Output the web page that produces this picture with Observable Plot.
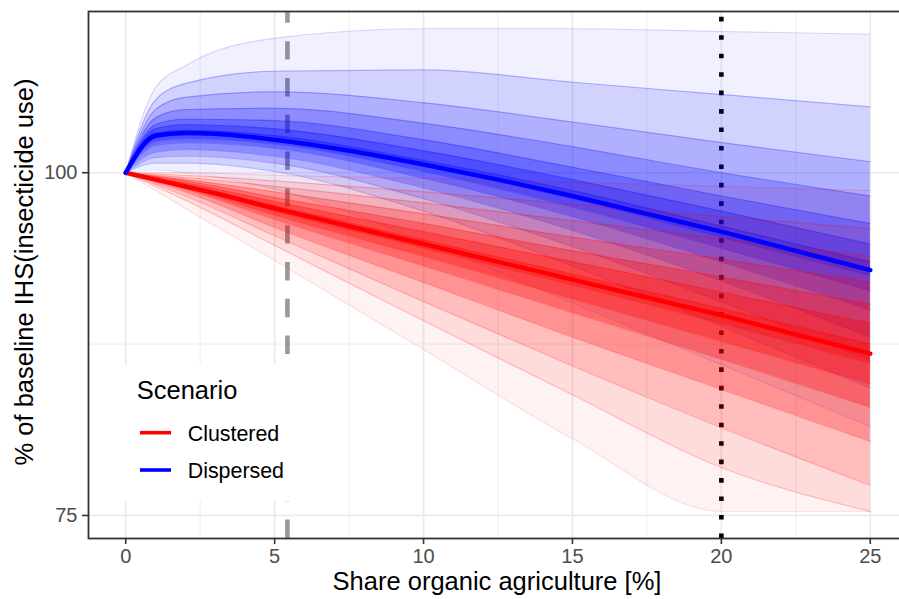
<!DOCTYPE html>
<html><head><meta charset="utf-8">
<script src="https://cdn.jsdelivr.net/npm/d3@7"></script>
<script src="https://cdn.jsdelivr.net/npm/@observablehq/plot@0.6"></script>
<style>
html,body{margin:0;padding:0;background:#fff;overflow:hidden;}
#wrap{position:relative;width:899px;height:599px;overflow:hidden;font-family:"Liberation Sans",Arial,sans-serif;}
#wrap svg{position:absolute;left:0;top:0;max-width:none !important;}
</style></head><body><div id="wrap"></div>
<script>
// ---- data ----
const xs = [0, 1, 2, 5, 10, 15, 20, 25];           // share organic agriculture [%]
// Dispersed ensemble: percentile envelopes (% of baseline), lowest to highest
const dispersedP00 = [100, 100.2, 100.0, 98.8, 95.0, 90.5, 86.0, 81.5];
const dispersedP03 = [100, 100.7, 100.7, 100.1, 97.2, 93.2, 88.8, 84.3];
const dispersedP08 = [100, 101.1, 101.2, 100.7, 98.1, 94.6, 90.6, 86.3];
const dispersedP15 = [100, 101.5, 101.7, 101.2, 98.9, 95.8, 92.1, 88.0];
const dispersedP25 = [100, 102.0, 102.2, 101.8, 99.6, 96.8, 93.5, 90.0];
const dispersedP35 = [100, 102.3, 102.5, 102.1, 100.1, 97.5, 94.5, 91.4];
const dispersedP45 = [100, 102.6, 102.8, 102.3, 100.5, 98.1, 95.3, 92.5];
const dispersedP55 = [100, 102.9, 103.1, 102.7, 100.9, 98.7, 96.1, 93.5];
const dispersedP65 = [100, 103.2, 103.5, 103.2, 101.6, 99.5, 97.2, 94.8];
const dispersedP75 = [100, 103.5, 103.9, 103.8, 102.4, 100.4, 98.3, 96.3];
const dispersedP85 = [100, 104.0, 104.6, 104.7, 103.6, 101.9, 100.0, 98.3];
const dispersedP92 = [100, 104.6, 105.5, 105.9, 105.1, 103.7, 102.2, 100.8];
const dispersedP97 = [100, 105.3, 106.5, 107.4, 107.5, 106.6, 105.7, 104.8];
const dispersedP100 = [100, 106.2, 107.8, 109.8, 110.5, 110.5, 110.3, 110.1];
// Clustered ensemble: percentile envelopes
const clusteredP00 = [100, 98.7, 97.4, 93.6, 87.1, 80.6, 75.3, 75.3];
const clusteredP03 = [100, 99.0, 98.0, 94.7, 89.2, 83.8, 78.5, 75.3];
const clusteredP08 = [100, 99.15, 98.3, 95.4, 90.6, 85.9, 81.4, 77.2];
const clusteredP15 = [100, 99.3, 98.6, 96.0, 92.0, 88.0, 84.2, 80.4];
const clusteredP25 = [100, 99.4, 98.8, 96.6, 93.2, 89.8, 86.4, 82.9];
const clusteredP35 = [100, 99.45, 98.9, 96.9, 93.9, 90.8, 87.7, 84.6];
const clusteredP45 = [100, 99.5, 99.0, 97.2, 94.5, 91.8, 89.0, 86.1];
const clusteredP55 = [100, 99.55, 99.1, 97.6, 95.1, 92.6, 90.1, 87.5];
const clusteredP65 = [100, 99.6, 99.25, 97.9, 95.7, 93.5, 91.3, 89.0];
const clusteredP75 = [100, 99.7, 99.4, 98.2, 96.3, 94.3, 92.4, 90.4];
const clusteredP85 = [100, 99.75, 99.5, 98.6, 97.0, 95.3, 93.7, 92.0];
const clusteredP92 = [100, 99.8, 99.65, 99.0, 97.8, 96.5, 95.2, 93.9];
const clusteredP97 = [100, 99.9, 99.8, 99.4, 98.6, 97.7, 96.8, 95.9];
const clusteredP100 = [100, 100, 100, 99.8, 99.6, 99.3, 99.0, 98.7];
// mean lines
const meanX = [0, 1, 2, 3, 5, 7.5, 10, 12.5, 15, 17.5, 20, 22.5, 25];
const meanDispersed = [100, 102.7, 102.9, 102.85, 102.4, 101.6, 100.6, 99.5, 98.3, 97.0, 95.7, 94.3, 92.9];
const meanClustered = [100, 99.5, 99.0, 98.5, 97.4, 96.1, 94.8, 93.5, 92.2, 90.9, 89.6, 88.2, 86.8];
// reference lines
const dashedX = [5.43];
const dottedX = [20];
// scenarios
const scenarios = ["Clustered", "Dispersed"];
const scenarioColors = ["#FF0000", "#0000FF"];
// axes
const xTicks = [0, 5, 10, 15, 20, 25];
const xMinor = [2.5, 7.5, 12.5, 17.5, 22.5];
const yTicks = [75, 100];
const yMinor = [87.5];
const xLimits = [-1.25, 26.25];
const yLimits = [73.32, 111.76];

// ---- build tables ----
const dispersedP = [dispersedP00, dispersedP03, dispersedP08, dispersedP15, dispersedP25, dispersedP35, dispersedP45,
  dispersedP55, dispersedP65, dispersedP75, dispersedP85, dispersedP92, dispersedP97, dispersedP100];
const clusteredP = [clusteredP00, clusteredP03, clusteredP08, clusteredP15, clusteredP25, clusteredP35, clusteredP45,
  clusteredP55, clusteredP65, clusteredP75, clusteredP85, clusteredP92, clusteredP97, clusteredP100];
const blueOpacity = [0.06, 0.12, 0.16, 0.2, 0.24, 0.26, 0.26];
const redOpacity = [0.05, 0.09, 0.14, 0.22, 0.28, 0.3, 0.3];
function band(lo, hi) { return xs.map((x, i) => ({x, lo: lo[i], hi: hi[i]})); }
function series(arr) { return xs.map((x, i) => ({x, y: arr[i]})); }
const meanRows = [
  ...meanX.map((x, i) => ({x, y: meanClustered[i], s: scenarios[0]})),
  ...meanX.map((x, i) => ({x, y: meanDispersed[i], s: scenarios[1]}))
];

const marks = [
  Plot.ruleX(xMinor, {stroke: "#EBEBEB", strokeWidth: 0.9}),
  Plot.ruleY(yMinor, {stroke: "#EBEBEB", strokeWidth: 0.9}),
  Plot.ruleX(xTicks, {stroke: "#EBEBEB", strokeWidth: 1.7}),
  Plot.ruleY(yTicks, {stroke: "#EBEBEB", strokeWidth: 1.7}),
  Plot.ruleX(dashedX, {y1: yLimits[0], y2: yLimits[1], stroke: "#999999", strokeWidth: 4.6, strokeDasharray: "18.4,18.4"}),
  Plot.ruleX(dottedX, {y1: yLimits[0], y2: yLimits[1], stroke: "#000000", strokeWidth: 4.6, strokeDasharray: "4.6,13.85"}),
];
function addEnsemble(P, color, opac, lineOp) {
  const n = P.length;
  for (let k = 0; k < n / 2; k++)
    marks.push(Plot.areaY(band(P[k], P[n - 1 - k]), {x: "x", y1: "lo", y2: "hi", fill: color, fillOpacity: opac[k], curve: "monotone-x"}));
  P.forEach((e, k) => {
    const edge = (k === 0 || k === n - 1);
    marks.push(Plot.line(series(e), {x: "x", y: "y", stroke: color, strokeOpacity: edge ? 0.12 : lineOp, strokeWidth: 1.2, curve: "monotone-x"}));
  });
}
addEnsemble(dispersedP, scenarioColors[1], blueOpacity, 0.22);
addEnsemble(clusteredP, scenarioColors[0], redOpacity, 0.22);
marks.push(
  Plot.line(meanRows, {x: "x", y: "y", z: "s", stroke: "s", strokeWidth: 4.5, curve: "monotone-x"}),
  Plot.axisX({ticks: xTicks, tickSize: 6, tickPadding: 4, fontSize: 20, stroke: "#333333", fill: "#4D4D4D", strokeWidth: 1.6, label: null}),
  Plot.axisY({ticks: yTicks, tickSize: 6, tickPadding: 5, fontSize: 20, stroke: "#333333", fill: "#4D4D4D", strokeWidth: 1.6, label: null}),
  Plot.frame({stroke: "#333333", strokeWidth: 1.8})
);

const chart = Plot.plot({
  width: 907, height: 599,
  marginLeft: 88, marginRight: 0, marginTop: 11, marginBottom: 61,
  style: {fontFamily: '"Liberation Sans", Arial, sans-serif', background: "#fff", overflow: "visible", maxWidth: "none"},
  x: {domain: xLimits},
  y: {domain: yLimits},
  color: {domain: scenarios, range: scenarioColors},
  marks
});
const wrap = document.getElementById("wrap");
wrap.appendChild(chart);

// ---- titles and legend (overlay) ----
const ov = d3.select(wrap).append("svg").attr("width", 899).attr("height", 599)
  .style("font-family", '"Liberation Sans", Arial, sans-serif');
ov.append("text").attr("x", 497).attr("y", 590).attr("text-anchor", "middle")
  .attr("font-size", 25.5).attr("fill", "#000").text("Share organic agriculture [%]");
ov.append("text").attr("transform", "translate(33,272) rotate(-90)").attr("text-anchor", "middle")
  .attr("font-size", 25.5).attr("fill", "#000").text("% of baseline IHS(insecticide use)");
const lg = ov.append("g");
lg.append("rect").attr("x", 123.5).attr("y", 365).attr("width", 174).attr("height", 136).attr("fill", "#fff");
lg.append("text").attr("x", 136.7).attr("y", 399.3).attr("font-size", 25.5).attr("fill", "#000").text("Scenario");
const keyY = [432.7, 470];
const labY = [441, 478.3];
scenarios.forEach((s, i) => {
  lg.append("line").attr("x1", 140).attr("x2", 171).attr("y1", keyY[i]).attr("y2", keyY[i])
    .attr("stroke", scenarioColors[i]).attr("stroke-width", 3.6);
  lg.append("text").attr("x", 187.7).attr("y", labY[i]).attr("font-size", 21.4).attr("fill", "#000").text(s);
});
</script></body></html>
